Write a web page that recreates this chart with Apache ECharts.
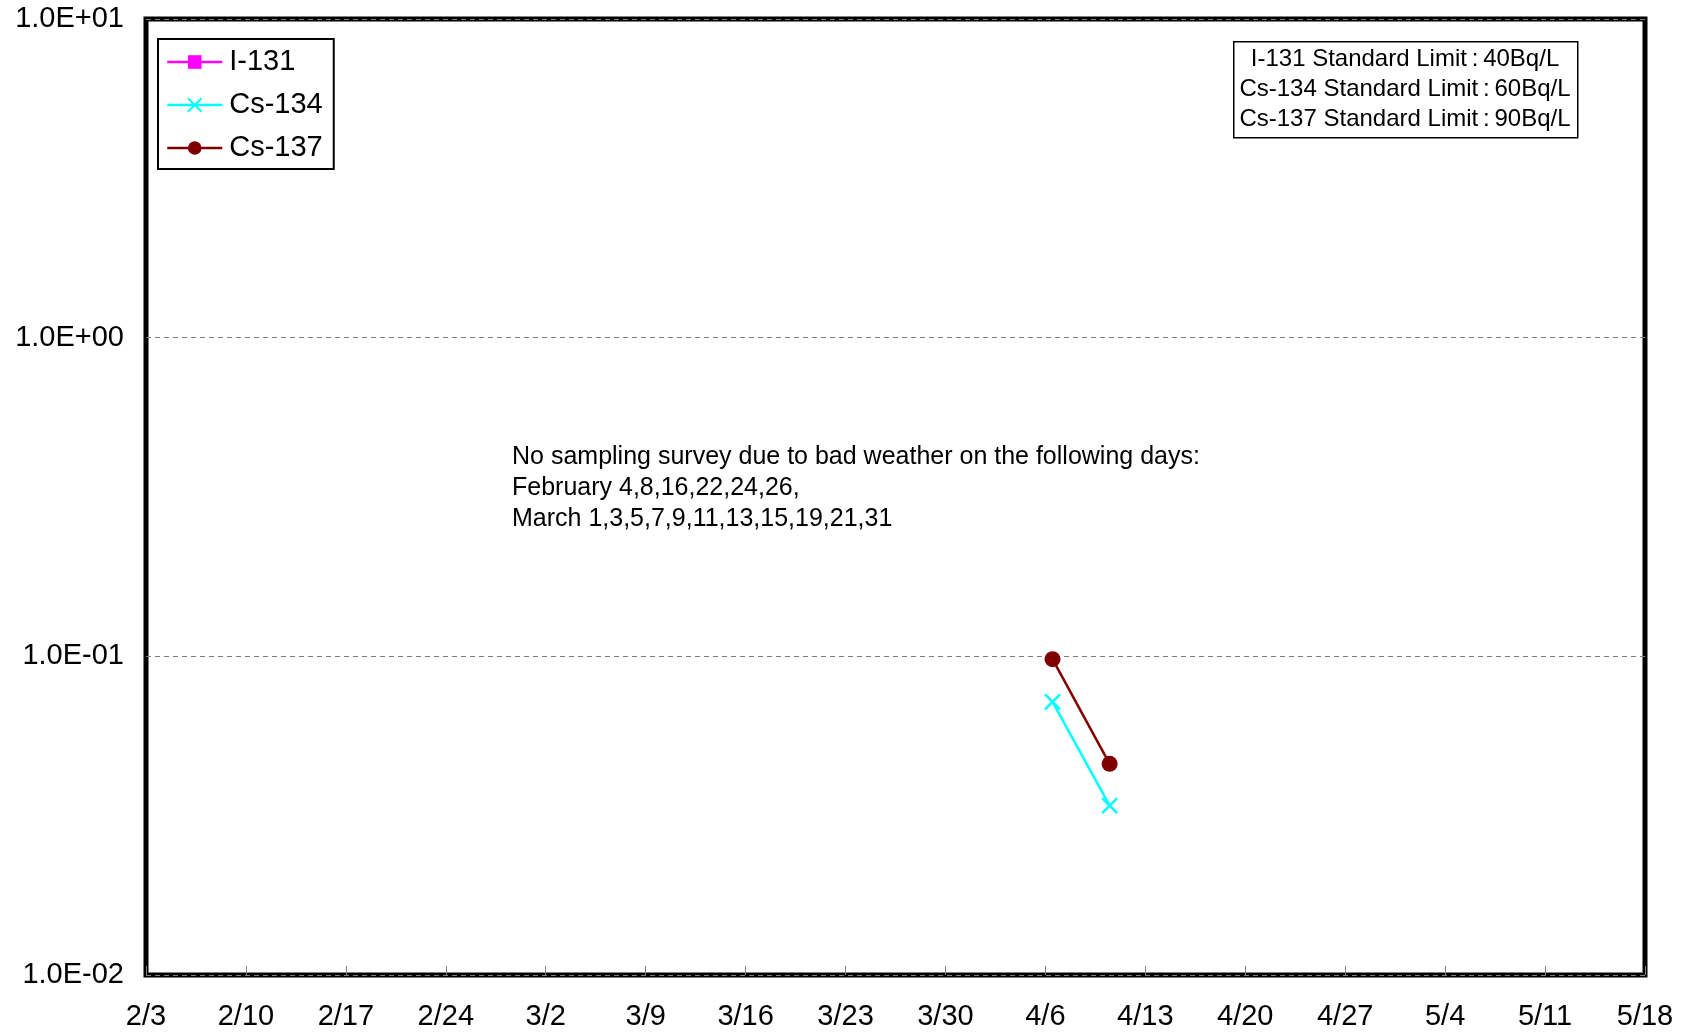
<!DOCTYPE html>
<html>
<head>
<meta charset="utf-8">
<style>
  html, body { margin: 0; padding: 0; background: #fff; }
  #chart { width: 1683px; height: 1035px; }
</style>
<script src="https://cdn.jsdelivr.net/npm/echarts@6/dist/echarts.min.js"></script>
</head>
<body>
<div id="chart"></div>
<script>
// Sampling days and measured activity (Bq/L)
const startDate = '2024-02-03';
const sampleDates = ['2024-04-06', '2024-04-10'];
const i131 = [null, null];
const cs134 = [0.072, 0.034];
const cs137 = [0.098, 0.046];

// Axis tick labels
const xTickLabels = ['2/3', '2/10', '2/17', '2/24', '3/2', '3/9', '3/16', '3/23',
  '3/30', '4/6', '4/13', '4/20', '4/27', '5/4', '5/11', '5/18'];
const yTickLabels = ['1.0E-02', '1.0E-01', '1.0E+00', '1.0E+01'];

const limitLines = [
  'I-131 Standard Limit\u2009:\u200940Bq/L',
  'Cs-134 Standard Limit\u2009:\u200960Bq/L',
  'Cs-137 Standard Limit\u2009:\u200990Bq/L'
];
const noteLines = [
  'No sampling survey due to bad weather on the following days:',
  'February 4,8,16,22,24,26,',
  'March 1,3,5,7,9,11,13,15,19,21,31'
];

const DAY = 86400000;
// days since the first axis date, each sample placed mid-day
function dayOffset(d) {
  return (Date.parse(d) - Date.parse(startDate)) / DAY + 0.5;
}
function pairs(values) {
  return sampleDates.map((d, i) => [dayOffset(d), values[i]]);
}

const FONT = '"Liberation Sans", Arial, sans-serif';
const chart = echarts.init(document.getElementById('chart'), null, { renderer: 'canvas' });

chart.setOption({
  animation: false,
  backgroundColor: '#fff',
  textStyle: { fontFamily: FONT },
  grid: {
    left: 146, right: 38, top: 19, bottom: 60,
    show: true, borderColor: '#000', borderWidth: 5, containLabel: false
  },
  legend: {
    orient: 'vertical',
    left: 158, top: 39,
    backgroundColor: '#fff',
    borderColor: '#000', borderWidth: 2,
    padding: [7, 11, 5, 8],
    itemWidth: 55, itemHeight: 17, itemGap: 11,
    lineStyle: { width: 2.5 },
    textStyle: { fontSize: 29, color: '#000', fontFamily: FONT, lineHeight: 32, padding: [0, 0, 0, 2] },
    data: ['I-131', 'Cs-134', 'Cs-137']
  },
  xAxis: {
    type: 'value',
    min: 0, max: (xTickLabels.length - 1) * 7, interval: 7,
    axisLine: { show: false },
    axisTick: { show: true, inside: true, length: 9, lineStyle: { color: '#808080', width: 1 } },
    splitLine: { show: false },
    axisLabel: {
      margin: 27, fontSize: 29, color: '#000', fontFamily: FONT,
      formatter: v => xTickLabels[Math.round(v / 7)] || ''
    }
  },
  yAxis: {
    type: 'log', logBase: 10, min: 0.01, max: 10,
    axisLine: { show: false },
    axisTick: { show: false },
    splitLine: { show: true, lineStyle: { color: '#7f7f7f', width: 1, type: [5, 4] } },
    axisLabel: {
      margin: 22, fontSize: 29, color: '#000', fontFamily: FONT,
      formatter: v => yTickLabels[Math.round(Math.log10(v)) + 2] || ''
    }
  },
  series: [
    {
      name: 'I-131', type: 'line', data: pairs(i131),
      symbol: 'rect', symbolSize: 16,
      lineStyle: { color: '#ff00ff', width: 2.5 },
      itemStyle: { color: '#ff00ff' }
    },
    {
      name: 'Cs-134', type: 'line', data: pairs(cs134),
      symbol: 'path://M0,0L10,10M10,0L0,10', symbolSize: 15,
      lineStyle: { color: '#00ffff', width: 2.5 },
      itemStyle: { color: '#00ffff', borderColor: '#00ffff', borderWidth: 2.5 }
    },
    {
      name: 'Cs-137', type: 'line', data: pairs(cs137),
      symbol: 'circle', symbolSize: 16,
      lineStyle: { color: '#800000', width: 2.5 },
      itemStyle: { color: '#800000' }
    }
  ],
  graphic: [
    {
      type: 'rect', left: 1233, top: 41, z: 10,
      shape: { width: 344, height: 96 },
      style: { fill: '#fff', stroke: '#000', lineWidth: 1.5 }
    },
    {
      type: 'text', z: 11,
      style: {
        x: 1405, y: 44, text: limitLines.join('\n'),
        font: '24px ' + FONT, fill: '#000', align: 'center', verticalAlign: 'top', lineHeight: 30
      }
    },
    {
      type: 'text', z: 11,
      style: {
        x: 512, y: 442, text: noteLines.join('\n'),
        font: '25px ' + FONT, fill: '#000', align: 'left', verticalAlign: 'top', lineHeight: 31
      }
    }
  ]
});
</script>
</body>
</html>
